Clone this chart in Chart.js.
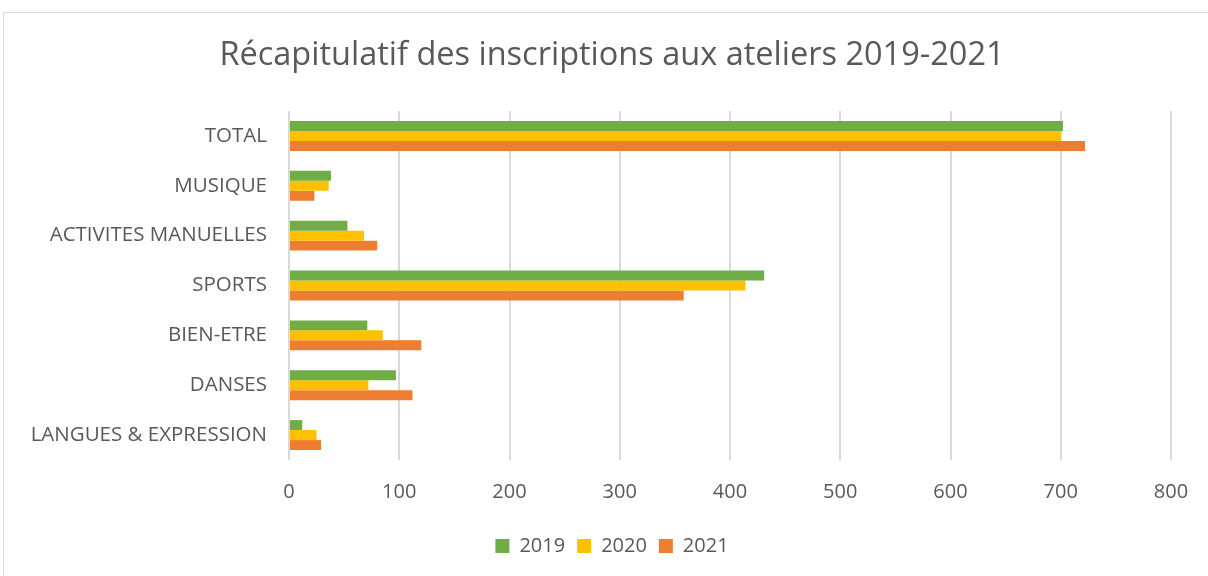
<!DOCTYPE html>
<html>
<head>
<meta charset="utf-8">
<script src="https://cdn.jsdelivr.net/npm/chart.js@4/dist/chart.umd.min.js"></script>
<style>
  body { margin: 0; background: #fff; }
  #wrap { position: relative; width: 1208px; height: 576px; overflow: hidden; }
  #frame { position: absolute; left: 3px; top: 12px; width: 1240px; height: 620px; border: 1px solid #d9d9d9; }
  canvas { position: absolute; left: 0; top: 0; }
</style>
</head>
<body>
<div id="wrap">
  <div id="frame"></div>
  <!-- canvas a bit wider than the window: the original chart frame is cut off on the right -->
  <canvas id="ateliersChart" width="1224" height="576"></canvas>
</div>
<script>
const categories = ['TOTAL', 'MUSIQUE', 'ACTIVITES MANUELLES', 'SPORTS', 'BIEN-ETRE', 'DANSES', 'LANGUES & EXPRESSION'];
const values2019 = [702, 38, 53, 431, 71, 97, 12];
const values2020 = [700, 36, 68, 414, 85, 72, 25];
const values2021 = [722, 23, 80, 358, 120, 112, 29];
const xTicks = [0, 100, 200, 300, 400, 500, 600, 700, 800];

const textColor = '#595959';
const fontFamily = '"Open Sans", "Liberation Sans", sans-serif';

const ctx = document.getElementById('ateliersChart').getContext('2d');

new Chart(ctx, {
    type: 'bar',
    data: {
        labels: categories,
        datasets: [
            { label: '2019', data: values2019, backgroundColor: '#70AD47' },
            { label: '2020', data: values2020, backgroundColor: '#FFC000' },
            { label: '2021', data: values2021, backgroundColor: '#ED7D31' }
        ]
    },
    options: {
        indexAxis: 'y',
        responsive: false,
        animation: false,
        categoryPercentage: 0.6,
        barPercentage: 1.0,
        layout: { padding: { left: 0, right: 0, top: 0, bottom: 10 } },
        plugins: {
            title: {
                display: true,
                text: 'Récapitulatif des inscriptions aux ateliers 2019-2021',
                color: textColor,
                font: { family: fontFamily, size: 32.5, weight: 'normal' },
                padding: { top: 36, bottom: 36 }
            },
            legend: {
                position: 'bottom',
                labels: {
                    color: textColor,
                    font: { family: fontFamily, size: 20 },
                    boxWidth: 14,
                    boxHeight: 14,
                    padding: 12
                }
            },
            tooltip: { enabled: false }
        },
        scales: {
            x: {
                min: 0,
                max: 800,
                afterBuildTicks: (scale) => { scale.ticks = xTicks.map(v => ({ value: v })); },
                grid: { color: '#d9d9d9', lineWidth: 2, drawTicks: false },
                border: { display: false },
                ticks: {
                    color: textColor,
                    font: { family: fontFamily, size: 20 },
                    padding: 20
                }
            },
            y: {
                grid: { display: false, drawTicks: false },
                border: { display: false },
                afterFit: (scale) => { scale.width = 289; },
                ticks: {
                    color: textColor,
                    font: { family: fontFamily, size: 20.5 },
                    padding: 22,
                    autoSkip: false
                }
            },
            // empty spacer on the right so the plot ends at 800 = 1171px
            spacer: {
                type: 'linear',
                position: 'right',
                grid: { display: false, drawTicks: false },
                border: { display: false },
                ticks: { display: false },
                afterFit: (scale) => { scale.width = 53; }
            }
        }
    }
});
</script>
</body>
</html>
